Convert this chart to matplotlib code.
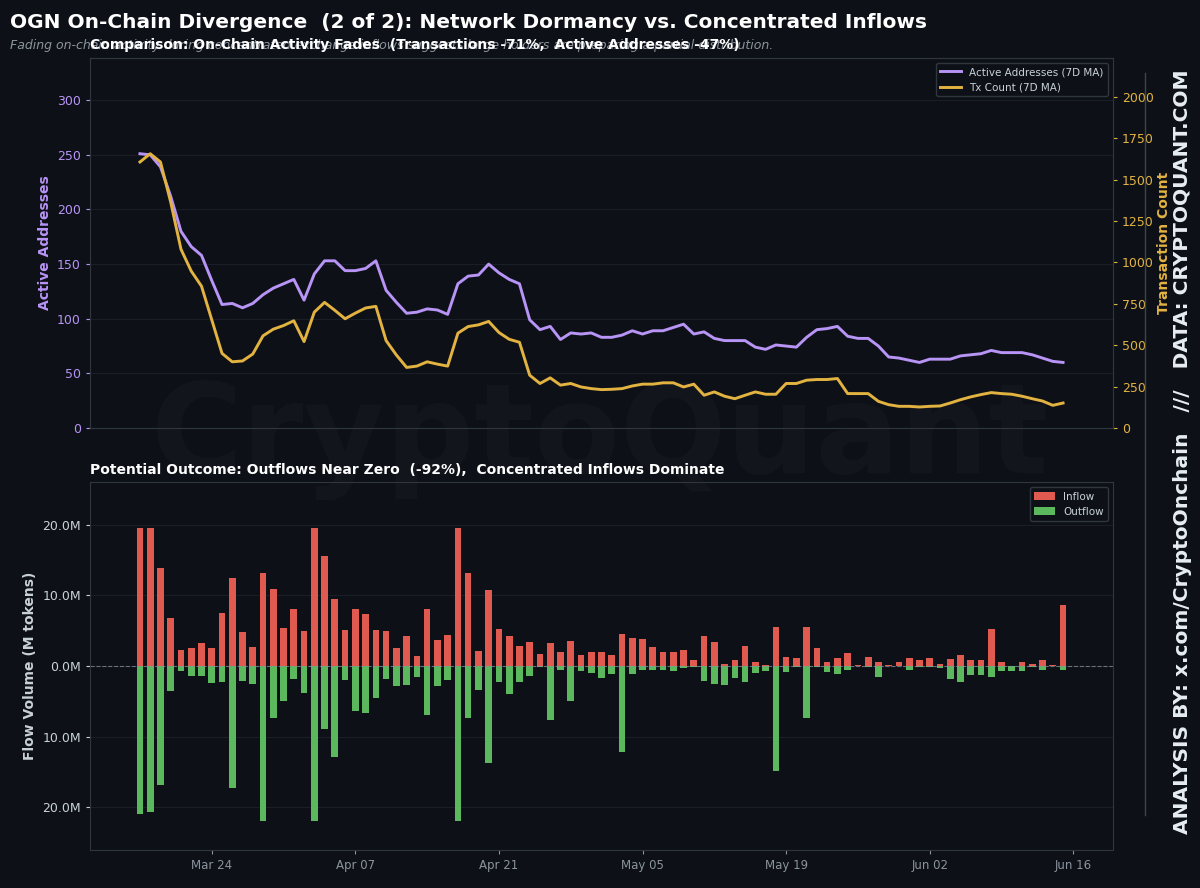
import numpy as np
import pandas as pd
import matplotlib
matplotlib.use('Agg')
import matplotlib.pyplot as plt
import matplotlib.dates as mdates
from matplotlib.lines import Line2D
from matplotlib.ticker import FuncFormatter

# daily data, Mar 17 -> Jun 15
dates = pd.date_range('2025-03-17', periods=91, freq='D')

active_addr = [251, 250, 239, 212, 180, 166, 158, 135, 113, 114, 110, 114, 122, 128, 132, 136,
               117, 141, 153, 153, 144, 144, 146, 153, 126, 115, 105, 106, 109, 108, 104, 132,
               139, 140, 150, 142, 136, 132, 99, 90, 93, 81, 87, 86, 87, 83,
               83, 85, 89, 86, 89, 89, 92, 95, 86, 88, 82, 80, 80, 80, 74, 72, 76, 75, 74, 83,
               90, 91, 93, 84, 82, 82, 75, 65, 64, 62, 60, 63, 63, 63, 66, 67, 68, 71, 69, 69,
               69, 67, 64, 61, 60]

tx_count = [1607, 1657, 1607, 1364, 1080, 948, 857, 654, 451, 400, 405, 447, 557, 597, 619, 648,
            522, 700, 759, 711, 660, 694, 725, 735, 528, 441, 366, 374, 400, 386, 374, 573,
            613, 623, 644, 577, 536, 518, 319, 269, 303, 259, 269, 248, 238, 232,
            234, 238, 254, 265, 265, 273, 273, 248, 265, 198, 218, 192, 177, 198, 218, 204,
            204, 269, 269, 289, 293, 293, 299, 208, 208, 208, 161, 141, 131, 131, 127, 131,
            133, 151, 171, 188, 202, 214, 208, 204, 192, 177, 163, 137, 151]

# exchange flows, M tokens
inflow = [19.5, 19.5, 13.8, 6.8, 2.2, 2.6, 3.3, 2.6, 7.5, 12.4, 4.8, 2.7, 13.2, 10.9, 5.4, 8.0,
          4.9, 19.5, 15.6, 9.5, 5.1, 8.1, 7.4, 5.1, 5.0, 2.6, 4.2, 1.4, 8.1, 3.7, 4.4, 19.5,
          13.1, 2.1, 10.8, 5.3, 4.2, 2.8, 3.4, 1.7, 3.3, 2.0, 3.6, 1.5, 2.0, 2.0,
          1.5, 4.5, 3.9, 3.8, 2.7, 2.0, 2.0, 2.3, 0.8, 4.3, 3.4, 0.3, 0.85, 2.8, 0.5, 0.1,
          5.5, 1.3, 1.2, 5.5, 2.5, 0.6, 1.1, 1.9, 0.15, 1.3, 0.6, 0.1, 0.6, 1.2, 0.8, 1.1,
          0.25, 0.95, 1.6, 0.85, 0.85, 5.2, 0.5, 0.05, 0.6, 0.25, 0.9, 0.15, 8.6]

outflow = [21.0, 20.7, 16.8, 3.6, 0.7, 1.4, 1.4, 2.4, 2.2, 17.2, 2.1, 2.6, 21.9, 7.3, 5.0, 1.8,
           3.8, 21.9, 8.9, 12.9, 2.0, 6.3, 6.6, 4.5, 1.8, 2.8, 2.7, 1.6, 6.9, 2.8, 2.0, 21.9,
           7.3, 3.4, 13.7, 2.3, 4.0, 2.2, 1.4, 0.2, 7.7, 0.5, 4.9, 0.7, 1.0, 1.7,
           1.2, 12.2, 1.2, 0.6, 0.6, 0.6, 0.7, 0.3, 0.1, 2.1, 2.5, 2.7, 1.65, 2.3, 1.0, 0.7,
           14.8, 0.85, 0.2, 7.4, 0.1, 0.8, 1.2, 0.6, 0.05, 0.1, 1.6, 0.05, 0.05, 0.6, 0.1, 0.1,
           0.3, 1.8, 2.3, 1.3, 1.3, 1.6, 0.7, 0.7, 0.75, 0.1, 0.5, 0.05, 0.5]

tick_dates = pd.date_range('2025-03-24', '2025-06-16', freq='14D')

BG = '#0d1117'
PURPLE = '#b794f6'
GOLD = '#e3b341'
RED = '#e05a4f'
GREEN = '#5cb85c'
GRID = '#1a1f27'
SPINE = '#30363d'
TXT = '#c9d1d9'

plt.rcParams['font.family'] = ['DejaVu Sans']

fig = plt.figure(figsize=(12, 8.88), dpi=100, facecolor=BG)

# watermark behind the panels
fig.text(0.5, 0.505, 'CryptoQuant', ha='center', va='center', fontsize=90,
         fontweight='bold', color='white', alpha=0.025, zorder=-1)

ax1 = fig.add_axes([0.075, 0.518, 0.8525, 0.417])
ax2 = fig.add_axes([0.075, 0.043, 0.8525, 0.414], sharex=ax1)
for ax in (ax1, ax2):
    ax.set_facecolor('none')
    for s in ax.spines.values():
        s.set_color(SPINE)
    ax.grid(axis='y', color=GRID, lw=0.8)
    ax.set_axisbelow(True)

# --- top: activity ---
ax1r = ax1.twinx()
l1, = ax1.plot(dates, active_addr, color=PURPLE, lw=2.1, label='Active Addresses (7D MA)')
l2, = ax1r.plot(dates, tx_count, color=GOLD, lw=2.1, label='Tx Count (7D MA)')
ax1.set_ylim(0, max(active_addr) * 1.35)
ax1r.set_ylim(0, max(tx_count) * 1.35)
ax1.set_yticks(range(0, 301, 50))
ax1r.set_yticks(range(0, 2001, 250))
ax1.tick_params(axis='y', colors=PURPLE, labelsize=9, length=3)
ax1r.tick_params(axis='y', colors=GOLD, labelsize=9, length=3)
ax1.tick_params(axis='x', labelbottom=False, length=0)
for s in ax1r.spines.values():
    s.set_color(SPINE)
ax1.set_ylabel('Active Addresses', color=PURPLE, fontsize=10, fontweight='bold')
ax1r.set_ylabel('Transaction Count', color=GOLD, fontsize=10, fontweight='bold', labelpad=2)
ax1.set_title('Comparison: On-Chain Activity Fades  (Transactions -71%,  Active Addresses -47%)',
              loc='left', color='white', fontsize=10, fontweight='bold', pad=6)
ax1r.legend(handles=[l1, l2], loc='upper right', fontsize=7.5, facecolor=BG,
            edgecolor=SPINE, labelcolor=TXT, framealpha=1)

# --- bottom: flows ---
ax2.bar(dates, inflow, width=0.65, color=RED, label='Inflow')
ax2.bar(dates, [-v for v in outflow], width=0.65, color=GREEN, label='Outflow')
ax2.axhline(0, color='#8b949e', ls='--', lw=0.8, alpha=0.7)
ax2.set_ylim(-26, 26)
ax2.set_yticks([-20, -10, 0, 10, 20])
ax2.yaxis.set_major_formatter(FuncFormatter(lambda v, p: f'{abs(v):.1f}M'))
ax2.tick_params(axis='y', colors=TXT, labelsize=9, length=3)
ax2.tick_params(axis='x', colors='#8b949e', labelsize=8.5, length=3)
ax2.set_xticks(tick_dates)
ax2.xaxis.set_major_formatter(mdates.DateFormatter('%b %d'))
ax2.set_xlim(dates[0] - pd.Timedelta(days=4.87), dates[-1] + pd.Timedelta(days=4.87))
ax2.set_ylabel('Flow Volume (M tokens)', color=TXT, fontsize=10, fontweight='bold')
ax2.set_title('Potential Outcome: Outflows Near Zero  (-92%),  Concentrated Inflows Dominate',
              loc='left', color='white', fontsize=10, fontweight='bold', pad=6)
ax2.legend(loc='upper right', fontsize=7.5, facecolor=BG, edgecolor=SPINE,
           labelcolor=TXT, framealpha=1)

# headers
fig.text(0.008, 0.975, 'OGN On-Chain Divergence  (2 of 2): Network Dormancy vs. Concentrated Inflows',
         color='white', fontsize=14.5, fontweight='bold', va='center')
fig.text(0.008, 0.949, 'Fading on-chain activity during concentrated exchange inflows suggests large '
         'holders are preparing a partial distribution.',
         color='#8b949e', fontsize=9, style='italic', va='center', zorder=-1)

# attribution strip
fig.add_artist(Line2D([0.954, 0.954], [0.082, 0.918], color='#3d444d', lw=1))
fig.text(0.985, 0.491, 'ANALYSIS BY: x.com/CryptoOnchain   ///   DATA: CRYPTOQUANT.COM',
         rotation=90, ha='center', va='center', color='#e6edf3', fontsize=14.5, fontweight='bold')

plt.savefig('out.png', dpi=100, facecolor=BG)
